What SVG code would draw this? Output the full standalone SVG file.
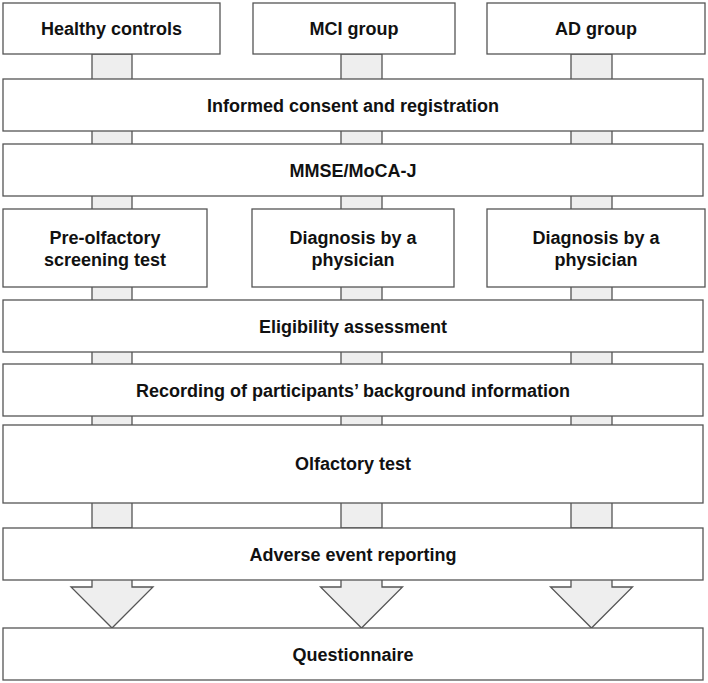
<svg xmlns="http://www.w3.org/2000/svg" width="708" height="683" viewBox="0 0 708 683">
<style>
.box{fill:#ffffff;stroke:#555555;stroke-width:1.3}
.conn{fill:#eeeeee;stroke:#555555;stroke-width:1.3}
text{font-family:"Liberation Sans",Arial,sans-serif;font-weight:bold;font-size:18px;fill:#111111;text-anchor:middle}
</style>
<rect width="708" height="683" fill="#ffffff"/>
<g id="connectors">
<rect class="conn" x="92" y="54" width="40" height="474"/>
<rect class="conn" x="341" y="54" width="41" height="474"/>
<rect class="conn" x="571" y="54" width="41" height="474"/>
<polygon class="conn" points="92,578 92,587 71,587 112,628 153,587 132,587 132,578"/>
<polygon class="conn" points="341,578 341,587 320.5,587 361.5,628 402.5,587 382,587 382,578"/>
<polygon class="conn" points="571,578 571,587 550.5,587 591.5,628 632.5,587 612,587 612,578"/>
</g>
<g id="healthy-controls"><rect class="box" x="3" y="3" width="217" height="51"/><text x="111.5" y="35">Healthy controls</text></g>
<g id="mci-group"><rect class="box" x="253" y="3" width="202" height="51"/><text x="354" y="35">MCI group</text></g>
<g id="ad-group"><rect class="box" x="487" y="3" width="218" height="51"/><text x="596" y="35">AD group</text></g>
<g id="informed-consent"><rect class="box" x="3" y="79" width="700" height="52"/><text x="353" y="111.5">Informed consent and registration</text></g>
<g id="mmse"><rect class="box" x="3" y="144" width="700" height="52"/><text x="353" y="176.5">MMSE/MoCA-J</text></g>
<g id="pre-olfactory"><rect class="box" x="3" y="209" width="204" height="78"/><text x="105" y="244">Pre-olfactory</text><text x="105" y="266">screening test</text></g>
<g id="diagnosis-mci"><rect class="box" x="252" y="209" width="202" height="78"/><text x="353" y="244">Diagnosis by a</text><text x="353" y="266">physician</text></g>
<g id="diagnosis-ad"><rect class="box" x="487" y="209" width="218" height="78"/><text x="596" y="244">Diagnosis by a</text><text x="596" y="266">physician</text></g>
<g id="eligibility"><rect class="box" x="3" y="300" width="700" height="52"/><text x="353" y="332.5">Eligibility assessment</text></g>
<g id="recording"><rect class="box" x="3" y="364" width="700" height="52"/><text x="353" y="396.5">Recording of participants’ background information</text></g>
<g id="olfactory-test"><rect class="box" x="3" y="425" width="700" height="78"/><text x="353" y="470">Olfactory test</text></g>
<g id="adverse-event"><rect class="box" x="3" y="528" width="700" height="52"/><text x="353" y="560.5">Adverse event reporting</text></g>
<g id="questionnaire"><rect class="box" x="3" y="628" width="700" height="52"/><text x="353" y="660.5">Questionnaire</text></g>
</svg>
